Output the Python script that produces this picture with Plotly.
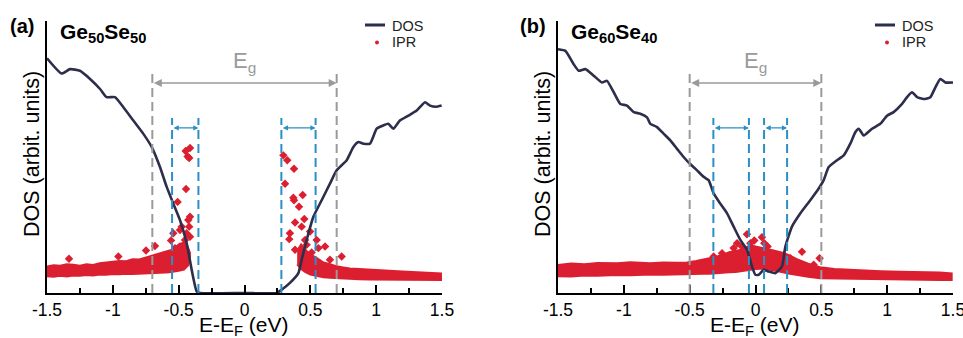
import plotly.graph_objects as go

# ---------------- data ----------------
# Panel (a) Ge50Se50 : DOS curve
dos_a_E = [-1.5, -1.389, -1.325, -1.25, -1.173, -1.097, -1.047, -0.984, -0.92, -0.844,
           -0.768, -0.705, -0.642, -0.591, -0.541, -0.49, -0.439, -0.401, -0.363, -0.338,
           0.0, 0.244, 0.282, 0.345, 0.409, 0.434, 0.472, 0.523, 0.586, 0.649, 0.7,
           0.776, 0.827, 0.865, 0.903, 0.953, 1.004, 1.054, 1.092, 1.13, 1.18, 1.244,
           1.308, 1.371, 1.409, 1.46, 1.497]
dos_a_V = [0.863, 0.807, 0.823, 0.817, 0.787, 0.75, 0.72, 0.72, 0.683, 0.634,
           0.585, 0.537, 0.463, 0.39, 0.329, 0.268, 0.183, 0.085, 0.006, 0.0,
           0.0, 0.0, 0.012, 0.037, 0.073, 0.122, 0.195, 0.28, 0.341, 0.402, 0.451,
           0.488, 0.537, 0.555, 0.549, 0.549, 0.604, 0.616, 0.622, 0.604, 0.634, 0.652,
           0.671, 0.701, 0.689, 0.685, 0.689]

# Panel (a) IPR dense band (valence side and conduction side): E, lower, upper
band_a1_E = [-1.5, -1.45, -1.4, -1.35, -1.3, -1.25, -1.2, -1.15, -1.1, -1.05, -1.0, -0.95, -0.9,
             -0.85, -0.8, -0.75, -0.7, -0.65, -0.6, -0.57, -0.54, -0.5, -0.46, -0.43, -0.415]
band_a1_lo = [0.062, 0.060, 0.063, 0.061, 0.064, 0.063, 0.066, 0.064, 0.068, 0.067, 0.070, 0.069, 0.071,
              0.070, 0.072, 0.071, 0.072, 0.074, 0.075, 0.076, 0.078, 0.082, 0.086, 0.100, 0.120]
band_a1_hi = [0.097, 0.102, 0.100, 0.106, 0.104, 0.100, 0.106, 0.103, 0.109, 0.112, 0.113, 0.118, 0.117,
              0.124, 0.123, 0.130, 0.136, 0.142, 0.150, 0.156, 0.162, 0.178, 0.186, 0.168, 0.148]
band_a2_E = [0.40, 0.43, 0.46, 0.50, 0.55, 0.60, 0.65, 0.70, 0.75, 0.80, 0.87, 0.95, 1.02, 1.10, 1.20,
             1.30, 1.40, 1.50]
band_a2_lo = [0.105, 0.088, 0.078, 0.068, 0.062, 0.058, 0.056, 0.054, 0.053, 0.052, 0.051, 0.050, 0.050,
              0.049, 0.049, 0.048, 0.048, 0.048]
band_a2_hi = [0.155, 0.178, 0.160, 0.142, 0.128, 0.112, 0.106, 0.098, 0.094, 0.090, 0.088, 0.085, 0.083,
              0.082, 0.079, 0.077, 0.076, 0.072]

# Panel (a) IPR isolated points
ipr_a_E = [-1.333, -0.958, -0.748, -0.68, -0.558, -0.541, -0.508, -0.49, -0.477, -0.452,
           -0.447, -0.432, -0.414, -0.42, -0.444, -0.414, -0.427, -0.42, -0.44, -0.414,
           -0.44, -0.528, -0.49, -0.465,
           0.295, 0.325, 0.376, 0.308, 0.371, 0.376, 0.442, 0.414, 0.384, 0.454,
           0.434, 0.345, 0.34, 0.384, 0.46, 0.472, 0.51, 0.548, 0.561, 0.612,
           0.649, 0.738, 0.498]
ipr_a_V = [0.126, 0.134, 0.156, 0.173, 0.193, 0.22, 0.335, 0.232, 0.244, 0.195,
           0.522, 0.502, 0.533, 0.496, 0.382, 0.28, 0.268, 0.244, 0.22, 0.207,
           0.146, 0.165, 0.171, 0.165,
           0.506, 0.488, 0.457, 0.402, 0.35, 0.341, 0.36, 0.317, 0.259, 0.272,
           0.244, 0.22, 0.198, 0.159, 0.195, 0.177, 0.149, 0.195, 0.165, 0.171,
           0.122, 0.134, 0.226]

# Panel (b) Ge60Se40 : DOS curve
dos_b_E = [-1.5, -1.444, -1.381, -1.343, -1.292, -1.229, -1.166, -1.128, -1.077, -1.027,
           -0.976, -0.925, -0.875, -0.824, -0.799, -0.748, -0.697, -0.647, -0.596, -0.546,
           -0.5, -0.444, -0.394, -0.356, -0.318, -0.268, -0.216, -0.166, -0.115, -0.065,
           -0.027, -0.001, 0.024, 0.062, 0.1, 0.151, 0.201, 0.227, 0.277, 0.341,
           0.416, 0.48, 0.518, 0.556, 0.619, 0.67, 0.72, 0.758, 0.784, 0.822,
           0.885, 0.948, 0.999, 1.049, 1.113, 1.151, 1.189, 1.227, 1.278, 1.328,
           1.366, 1.404, 1.442, 1.5]
dos_b_V = [0.896, 0.89, 0.841, 0.817, 0.823, 0.799, 0.774, 0.78, 0.738, 0.695,
           0.689, 0.665, 0.659, 0.646, 0.622, 0.61, 0.585, 0.561, 0.53, 0.5,
           0.476, 0.451, 0.427, 0.415, 0.366, 0.329, 0.293, 0.244, 0.195, 0.159,
           0.098, 0.067, 0.067, 0.085, 0.079, 0.073, 0.098, 0.171, 0.244, 0.293,
           0.341, 0.384, 0.415, 0.463, 0.488, 0.506, 0.549, 0.591, 0.604, 0.579,
           0.604, 0.622, 0.652, 0.665, 0.695, 0.72, 0.738, 0.72, 0.713, 0.72,
           0.756, 0.787, 0.774, 0.774]

# Panel (b) IPR dense band
band_b_E = [-1.5, -1.4, -1.3, -1.2, -1.05, -0.95, -0.8, -0.7, -0.6, -0.52, -0.45, -0.4, -0.35, -0.3,
            -0.25, -0.2, -0.15, -0.1, -0.04, 0.0, 0.06, 0.12, 0.19, 0.25, 0.31, 0.4, 0.49, 0.6, 0.7,
            0.82, 0.95, 1.1, 1.25, 1.4, 1.49]
band_b_lo = [0.062, 0.061, 0.064, 0.063, 0.066, 0.065, 0.068, 0.067, 0.069, 0.070, 0.070, 0.071, 0.071,
             0.072, 0.074, 0.076, 0.077, 0.078, 0.085, 0.088, 0.090, 0.084, 0.078, 0.072, 0.066, 0.060,
             0.054, 0.052, 0.051, 0.050, 0.050, 0.049, 0.049, 0.048, 0.048]
band_b_hi = [0.103, 0.108, 0.106, 0.110, 0.109, 0.113, 0.109, 0.112, 0.111, 0.112, 0.118, 0.122, 0.128,
             0.133, 0.140, 0.150, 0.155, 0.160, 0.175, 0.170, 0.165, 0.158, 0.150, 0.140, 0.125, 0.108,
             0.095, 0.088, 0.085, 0.082, 0.080, 0.078, 0.077, 0.075, 0.072]

# Panel (b) IPR isolated points
ipr_b_E = [-0.065, -0.14, -0.166, -0.103, -0.077, -0.254, -0.039, -0.009, 0.049, 0.067,
           0.092, 0.011, -0.027, 0.163, 0.214, 0.265, 0.353, 0.442, 0.487, -0.318,
           0.113, 0.138]
ipr_b_V = [0.216, 0.183, 0.165, 0.171, 0.152, 0.146, 0.183, 0.193, 0.205, 0.183,
           0.171, 0.146, 0.128, 0.134, 0.14, 0.128, 0.152, 0.104, 0.128, 0.134,
           0.11, 0.098]

# Gap and mobility-edge markers
eg_a = [-0.7, 0.7]
mob_a = [(-0.55, -0.35), (0.28, 0.54)]
eg_b = [-0.5, 0.5]
mob_b = [(-0.32, -0.05), (0.065, 0.24)]

tick_vals = [-1.5, -1, -0.5, 0, 0.5, 1, 1.5]
tick_text = ["-1.5", "-1", "-0.5", "0", "0.5", "1", "1.5"]

# ---------------- styling ----------------
W, H = 963, 338
FONT = "Liberation Sans, Arial, Helvetica, sans-serif"
DOS_COLOR = "#2c2e4c"
IPR_COLOR = "#dc1f30"
GRAY = "#9a9a9a"
BLUE = "#2b8fc6"


def px(x):
    return x / W


def py(y):
    return 1 - y / H


fig = go.Figure()

panels = [
    dict(xa="x", ya="y", dosE=dos_a_E, dosV=dos_a_V,
         bands=[(band_a1_E, band_a1_lo, band_a1_hi), (band_a2_E, band_a2_lo, band_a2_hi)],
         iprE=ipr_a_E, iprV=ipr_a_V, eg=eg_a, mob=mob_a),
    dict(xa="x2", ya="y2", dosE=dos_b_E, dosV=dos_b_V,
         bands=[(band_b_E, band_b_lo, band_b_hi)],
         iprE=ipr_b_E, iprV=ipr_b_V, eg=eg_b, mob=mob_b),
]

shapes = []
annotations = []
EG_TOP = 0.82
EG_ARROW = 0.772
MOB_TOP = 0.643
MOB_ARROW = 0.607

for p in panels:
    for (bE, blo, bhi) in p["bands"]:
        fig.add_trace(go.Scatter(
            x=list(bE) + list(bE[::-1]), y=list(bhi) + list(blo[::-1]),
            xaxis=p["xa"], yaxis=p["ya"], mode="lines", fill="toself",
            fillcolor=IPR_COLOR, line=dict(color=IPR_COLOR, width=2),
            showlegend=False, hoverinfo="skip"))
    fig.add_trace(go.Scatter(
        x=p["iprE"], y=p["iprV"], xaxis=p["xa"], yaxis=p["ya"], mode="markers",
        marker=dict(symbol="diamond", size=6.5, color=IPR_COLOR), showlegend=False, name="IPR"))
    fig.add_trace(go.Scatter(
        x=p["dosE"], y=p["dosV"], xaxis=p["xa"], yaxis=p["ya"], mode="lines",
        line=dict(color=DOS_COLOR, width=2.6, shape="spline", smoothing=0.5),
        showlegend=False, name="DOS"))
    # gap lines
    for e in p["eg"]:
        shapes.append(dict(type="line", xref=p["xa"], yref=p["ya"], x0=e, x1=e, y0=0, y1=EG_TOP,
                           line=dict(color=GRAY, width=2, dash="9px,5px")))
    annotations.append(dict(xref=p["xa"], yref=p["ya"], x=p["eg"][1], y=EG_ARROW,
                            ax=p["eg"][0], ay=EG_ARROW, axref=p["xa"], ayref=p["ya"],
                            showarrow=True, arrowside="end+start", arrowhead=2, startarrowhead=2,
                            arrowsize=1, arrowwidth=1.6, arrowcolor=GRAY, text=""))
    annotations.append(dict(xref=p["xa"], yref=p["ya"], x=(p["eg"][0] + p["eg"][1]) / 2, y=0.85,
                            text="E<sub>g</sub>", showarrow=False,
                            font=dict(family=FONT, size=22, color=GRAY)))
    for (m0, m1) in p["mob"]:
        for e in (m0, m1):
            shapes.append(dict(type="line", xref=p["xa"], yref=p["ya"], x0=e, x1=e, y0=0, y1=MOB_TOP,
                               line=dict(color=BLUE, width=2, dash="9px,5px")))
        annotations.append(dict(xref=p["xa"], yref=p["ya"], x=m1, y=MOB_ARROW,
                                ax=m0, ay=MOB_ARROW, axref=p["xa"], ayref=p["ya"],
                                showarrow=True, arrowside="end+start", arrowhead=2, startarrowhead=2,
                                arrowsize=0.8, arrowwidth=1.3, arrowcolor=BLUE, text=""))

# panel labels, titles, axis titles, legends
for (lab, comp, lab_x, comp_x, axis_x, leg_x) in [
        ("(a)", "Ge<sub>50</sub>Se<sub>50</sub>", 22, 58, 47, 365),
        ("(b)", "Ge<sub>60</sub>Se<sub>40</sub>", 533, 569, 558, 875)]:
    annotations.append(dict(xref="paper", yref="paper", x=px(lab_x), y=py(26), text="<b>%s</b>" % lab,
                            showarrow=False, xanchor="center", yanchor="middle",
                            font=dict(family=FONT, size=20, color="black")))
    annotations.append(dict(xref="paper", yref="paper", x=px(comp_x), y=py(33), text="<b>%s</b>" % comp,
                            showarrow=False, xanchor="left", yanchor="middle",
                            font=dict(family=FONT, size=21, color="black")))
    annotations.append(dict(xref="paper", yref="paper", x=px(axis_x - 15), y=py(154),
                            text="DOS (arbit. units)", textangle=-90, showarrow=False,
                            xanchor="center", yanchor="middle",
                            font=dict(family=FONT, size=21.5, color="black")))
    annotations.append(dict(xref="paper", yref="paper", x=px(axis_x + 197), y=py(326),
                            text="E-E<sub>F</sub> (eV)", showarrow=False,
                            xanchor="center", yanchor="middle",
                            font=dict(family=FONT, size=21, color="black")))
    # legend
    shapes.append(dict(type="line", xref="paper", yref="paper", x0=px(leg_x), x1=px(leg_x + 20),
                       y0=py(25), y1=py(25), line=dict(color=DOS_COLOR, width=3)))
    shapes.append(dict(type="circle", xref="paper", yref="paper", x0=px(leg_x + 10), x1=px(leg_x + 14),
                       y0=py(40.5), y1=py(44.5), fillcolor=IPR_COLOR, line=dict(color=IPR_COLOR, width=0)))
    annotations.append(dict(xref="paper", yref="paper", x=px(leg_x + 25), y=py(26), text="DOS",
                            showarrow=False, xanchor="left", yanchor="middle",
                            font=dict(family=FONT, size=14.5, color="#222")))
    annotations.append(dict(xref="paper", yref="paper", x=px(leg_x + 25), y=py(42), text="IPR",
                            showarrow=False, xanchor="left", yanchor="middle",
                            font=dict(family=FONT, size=14.5, color="#222")))

xcommon = dict(range=[-1.5, 1.5], tickvals=tick_vals, ticktext=tick_text, ticks="inside",
               ticklen=8, tickwidth=1.5, tickcolor="black", showline=True, linecolor="black",
               linewidth=2, showgrid=False, zeroline=False, automargin=False,
               ticklabeloverflow="allow",
               tickfont=dict(family=FONT, size=17.5, color="black"),
               minor=dict(dtick=0.25, ticks="inside", ticklen=5, tickwidth=1.5, tickcolor="black",
                          showgrid=False))
ycommon = dict(range=[0, 1], showticklabels=False, ticks="", showline=True, linecolor="black",
               linewidth=2, showgrid=False, zeroline=False, automargin=False)

y_dom = [1 - 293 / H, 1 - 21 / H]
fig.update_layout(
    width=W, height=H, margin=dict(l=0, r=0, t=0, b=0, autoexpand=False),
    paper_bgcolor="white", plot_bgcolor="white",
    xaxis=dict(domain=[47 / W, 442 / W], anchor="y", **xcommon),
    yaxis=dict(domain=y_dom, anchor="x", **ycommon),
    xaxis2=dict(domain=[558 / W, 953 / W], anchor="y2", **xcommon),
    yaxis2=dict(domain=y_dom, anchor="x2", **ycommon),
    shapes=shapes, annotations=annotations, showlegend=False,
    font=dict(family=FONT),
)

fig.write_html("out.html", config={"displayModeBar": False},
               post_script="document.body.style.margin='0';document.body.style.padding='0';")
